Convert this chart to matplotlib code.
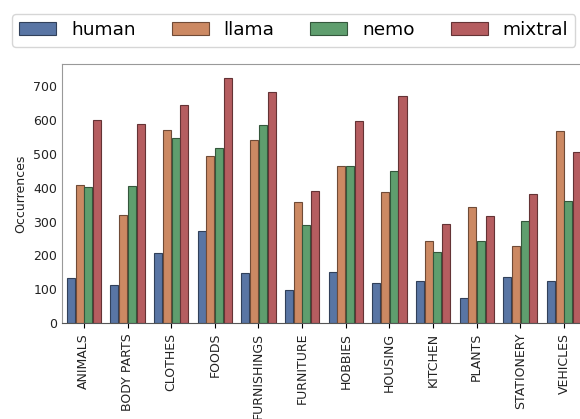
import colorsys
import numpy as np
import matplotlib.pyplot as plt
import matplotlib.colors as mcolors

# Category counts per source
categories = ['ANIMALS', 'BODY PARTS', 'CLOTHES', 'FOODS', 'FURNISHINGS', 'FURNITURE',
              'HOBBIES', 'HOUSING', 'KITCHEN', 'PLANTS', 'STATIONERY', 'VEHICLES']
human = [134, 113, 207, 271, 147, 98, 151, 118, 123, 75, 136, 124]
llama = [409, 319, 571, 493, 540, 357, 465, 386, 241, 342, 227, 568]
nemo = [401, 404, 546, 517, 584, 291, 465, 449, 209, 243, 302, 360]
mixtral = [600, 587, 645, 725, 684, 389, 596, 672, 294, 317, 380, 505]
series_names = ['human', 'llama', 'nemo', 'mixtral']


def desaturate(c, prop=0.75):
    r, g, b = mcolors.to_rgb(c)
    h, l, s = colorsys.rgb_to_hls(r, g, b)
    return colorsys.hls_to_rgb(h, l, s * prop)


base = ['#4C72B0', '#DD8452', '#55A868', '#C44E52']
colors = [desaturate(c) for c in base]

fig = plt.figure(figsize=(5.8, 4.19), dpi=100)
ax = fig.add_axes([0.107, 0.229, 0.903, 0.618])

x = np.arange(len(categories))
w = 0.2
handles = []
for i, (name, vals) in enumerate(zip(series_names, [human, llama, nemo, mixtral])):
    edge = tuple(v * 0.55 for v in colors[i])
    b = ax.bar(x + (i - 1.5) * w, vals, width=w * 0.92, color=colors[i],
               edgecolor=edge, linewidth=0.8, label=name)
    handles.append(b)

ax.set_xlim(-0.5, len(categories) - 0.5)
ax.set_ylim(0, 765)
ax.set_yticks(range(0, 701, 100))
ax.set_xticks(x)
ax.set_xticklabels(categories, rotation=90, fontsize=9, color='#222222')
ax.tick_params(axis='y', length=0, labelsize=9, labelcolor='#222222')
ax.tick_params(axis='x', length=3.5)
ax.set_ylabel('Occurrences', fontsize=9, color='#222222')
for s in ax.spines.values():
    s.set_color('#999999')
ax.spines['bottom'].set_color('#555555')

fig.legend(handles=handles, labels=series_names, loc='upper left',
           bbox_to_anchor=(12 / 580, 1 - 14 / 419), borderaxespad=0, ncol=4,
           fontsize=13.3, handlelength=2.0, columnspacing=1.95, frameon=True,
           fancybox=True, edgecolor='#cccccc')

fig.savefig('out.png', dpi=100)
